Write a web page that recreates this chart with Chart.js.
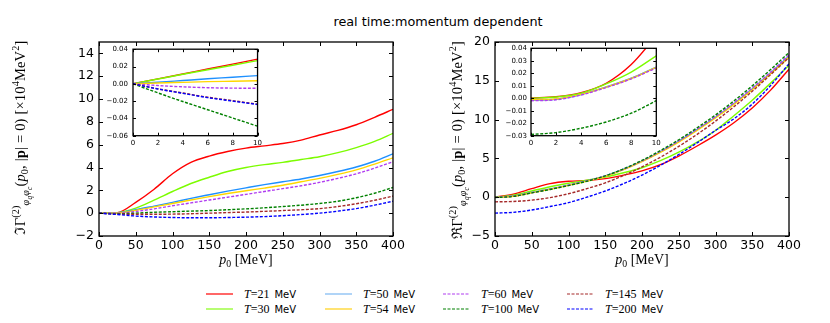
<!DOCTYPE html>
<html>
<head>
<meta charset="utf-8">
<script src="https://cdn.jsdelivr.net/npm/chart.js@4.4.1/dist/chart.umd.min.js"></script>
<style>
  body { margin: 0; background: #fff; }
  #fig { position: relative; width: 830px; height: 323px; overflow: hidden; font-family: 'DejaVu Sans', sans-serif; color: #000; }
  #fig canvas { position: absolute; }
  #title { position: absolute; left: 0; width: 876px; top: 14px; line-height: 15px; text-align: center; font-size: 12.8px; }
  .lg { position: absolute; height: 14px; }
  .lg svg { position: absolute; left: 0; top: 5px; }
  .lg span { position: absolute; left: 38px; top: 0; line-height: 14px; white-space: nowrap; font-size: 10px; }
  .lg i, .lg b { font-family: 'Liberation Serif', serif; font-size: 12px; font-weight: normal; }
</style>
</head>
<body>
<div id="fig">
  <div id="title">real time:momentum dependent</div>
  <canvas id="imMain" width="415" height="280" style="left:0;top:0"></canvas>
  <canvas id="reMain" width="415" height="280" style="left:415px;top:0"></canvas>
  <canvas id="imInset" width="165" height="108" style="left:100px;top:40px"></canvas>
  <canvas id="reInset" width="170" height="108" style="left:497px;top:40px"></canvas>
</div>
<script>
// --- DATA ---
const temps = ['21', '30', '50', '54', '60', '100', '145', '200'];
const energies = [0, 25, 50, 75, 100, 125, 150, 175, 200, 225, 250, 275, 300, 325, 350, 375, 400];
const insetEnergies = [0, 2, 4, 6, 8, 10];

// imaginary part, x 10^4 MeV^2
const imT21 = [0, 0.05, 0.95, 2.1, 3.45, 4.45, 5.0, 5.4, 5.7, 5.9, 6.1, 6.4, 6.85, 7.25, 7.75, 8.4, 9.1];
const imT30 = [0, 0.05, 0.45, 1.15, 1.9, 2.6, 3.15, 3.65, 4.0, 4.25, 4.45, 4.7, 4.95, 5.3, 5.75, 6.3, 7.0];
const imT50 = [0, 0.03, 0.3, 0.62, 0.95, 1.3, 1.62, 1.93, 2.22, 2.5, 2.75, 3.0, 3.3, 3.65, 4.05, 4.55, 5.2];
const imT54 = [0, 0.02, 0.25, 0.55, 0.85, 1.15, 1.45, 1.72, 1.97, 2.2, 2.45, 2.75, 3.05, 3.4, 3.8, 4.3, 4.85];
const imT60 = [0, 0.0, 0.15, 0.38, 0.65, 0.9, 1.15, 1.4, 1.65, 1.9, 2.15, 2.4, 2.7, 3.05, 3.45, 3.95, 4.5];
const imT100 = [0, -0.05, 0.0, 0.08, 0.13, 0.18, 0.23, 0.3, 0.38, 0.47, 0.58, 0.7, 0.85, 1.05, 1.35, 1.75, 2.25];
const imT145 = [0, -0.08, -0.1, -0.1, -0.08, -0.05, 0.0, 0.05, 0.1, 0.16, 0.23, 0.3, 0.4, 0.58, 0.83, 1.13, 1.5];
const imT200 = [0, -0.12, -0.25, -0.33, -0.38, -0.4, -0.4, -0.38, -0.35, -0.3, -0.22, -0.12, 0.0, 0.18, 0.4, 0.7, 1.05];

// real part, x 10^4 MeV^2
const reT21 = [0, 0.4, 1.1, 1.75, 2.05, 2.15, 2.4, 2.85, 3.4, 4.2, 5.3, 6.6, 8.0, 9.6, 11.5, 13.8, 16.5];
const reT30 = [0, 0.25, 0.8, 1.35, 1.8, 2.2, 2.6, 3.15, 3.8, 4.7, 5.8, 7.1, 8.6, 10.5, 12.5, 14.7, 17.0];
const reT50 = [0, 0.15, 0.6, 1.05, 1.55, 2.1, 2.75, 3.6, 4.65, 5.85, 7.2, 8.7, 10.3, 12.05, 13.95, 16.0, 18.2];
const reT54 = [0, 0.13, 0.57, 1.02, 1.52, 2.07, 2.7, 3.55, 4.58, 5.77, 7.1, 8.6, 10.2, 11.95, 13.85, 15.9, 18.05];
const reT60 = [-0.02, 0.14, 0.58, 1.04, 1.55, 2.1, 2.75, 3.62, 4.67, 5.9, 7.25, 8.78, 10.4, 12.15, 14.07, 16.12, 18.35];
const reT100 = [-0.03, 0.1, 0.55, 1.0, 1.5, 2.05, 2.75, 3.65, 4.75, 6.0, 7.4, 8.95, 10.6, 12.4, 14.35, 16.45, 18.65];
const reT145 = [-0.6, -0.55, -0.38, -0.05, 0.45, 1.1, 1.85, 2.8, 3.9, 5.15, 6.55, 8.1, 9.8, 11.65, 13.65, 15.8, 18.0];
const reT200 = [-2.05, -1.95, -1.65, -1.2, -0.7, 0.0, 0.8, 1.75, 2.85, 4.1, 5.5, 7.0, 8.6, 10.1, 12.0, 14.4, 17.2];

// insets (p0 = 0..10 MeV)
const imInsT21 = [0, 0.0057, 0.0114, 0.0171, 0.0228, 0.0285];
const imInsT30 = [0, 0.0055, 0.011, 0.0163, 0.0215, 0.0268];
const imInsT50 = [0, 0.0018, 0.0038, 0.0058, 0.0076, 0.0095];
const imInsT54 = [0, 0.0009, 0.0017, 0.0025, 0.003, 0.0035];
const imInsT60 = [0, -0.002, -0.0035, -0.0045, -0.005, -0.0052];
const imInsT100 = [0, -0.0105, -0.0205, -0.03, -0.0395, -0.049];
const imInsT145 = [0, -0.0058, -0.0107, -0.0155, -0.0195, -0.0235];
const imInsT200 = [0, -0.006, -0.011, -0.016, -0.02, -0.024];

const reInsT21 = [0.0002, 0.0012, 0.0045, 0.012, 0.027, 0.05];
const reInsT30 = [0, 0.001, 0.004, 0.0115, 0.021, 0.034];
const reInsT50 = [-0.0015, -0.0008, 0.003, 0.009, 0.016, 0.025];
const reInsT54 = [-0.0012, -0.0006, 0.0031, 0.0089, 0.0158, 0.0248];
const reInsT60 = [-0.002, -0.0012, 0.0026, 0.0086, 0.0155, 0.0243];
const reInsT100 = [-0.029, -0.0275, -0.024, -0.019, -0.012, -0.002];

// --- STYLE ---
const seriesColors = ['#ff0000', '#7cfc00', '#1e90ff', '#ffd700', '#b03cf0', '#008000', '#a52a2a', '#0000ff'];
const legendColors = ['#ff4040', '#7cfc00', '#9ccaf5', '#ffcc00', '#b03cf0', '#008000', '#a52a2a', '#0000ff'];
const dashedSeries = [false, false, false, false, true, true, true, true];

const SERIF = "'Liberation Serif', 'DejaVu Serif', serif";
const SANS = "'DejaVu Sans', sans-serif";

// rich text: parts laid out char by char, sub/superscripts via dy,
// extra spacing spread so the whole label spans `span` px
function layoutRich(ctx, parts, gap) {
  let x = 0, mark = 0, maxX = 0, n = 0;
  const placed = [];
  parts.forEach((p) => {
    ctx.font = p.f;
    if (p.mark) mark = x;
    if (p.back) x = mark;
    if (p.join) x = maxX;
    for (const ch of p.t) {
      placed.push({ ch, f: p.f, dy: p.dy || 0, x });
      x += ctx.measureText(ch).width + gap;
      n++;
    }
    maxX = Math.max(maxX, x);
  });
  return { placed, width: maxX, n };
}

function drawRich(ctx, parts, cx, baseY, span) {
  let lay = layoutRich(ctx, parts, 0);
  if (span) lay = layoutRich(ctx, parts, Math.max(0, (span - lay.width) / lay.n));
  ctx.textAlign = 'left';
  ctx.textBaseline = 'alphabetic';
  ctx.fillStyle = '#000';
  lay.placed.forEach((c) => {
    ctx.font = c.f;
    ctx.fillText(c.ch, cx - lay.width / 2 + c.x, baseY + c.dy);
  });
}

function yTitleParts(sym, S) {
  const s1 = S * 0.7, s2 = S * 0.5;
  return [
    { t: sym + 'Γ', f: `${S}px ${SERIF}` },
    { t: '(2)', f: `${s1}px ${SERIF}`, dy: -S * 0.42, mark: true },
    { t: 'φ', f: `italic ${s1}px ${SERIF}`, dy: S * 0.3, back: true },
    { t: 'q', f: `italic ${s2}px ${SERIF}`, dy: S * 0.45 },
    { t: 'φ', f: `italic ${s1}px ${SERIF}`, dy: S * 0.3 },
    { t: 'c', f: `italic ${s2}px ${SERIF}`, dy: S * 0.45 },
    { t: '(', f: `${S}px ${SERIF}`, join: true },
    { t: 'p', f: `italic ${S}px ${SERIF}` },
    { t: '0', f: `${s1}px ${SERIF}`, dy: S * 0.22 },
    { t: ', |', f: `${S}px ${SERIF}` },
    { t: 'p', f: `bold ${S}px ${SERIF}` },
    { t: '| = 0) [×10', f: `${S}px ${SERIF}` },
    { t: '4', f: `${s1}px ${SERIF}`, dy: -S * 0.42 },
    { t: 'MeV', f: `${S}px ${SERIF}` },
    { t: '2', f: `${s1}px ${SERIF}`, dy: -S * 0.42 },
    { t: ']', f: `${S}px ${SERIF}` },
  ];
}

function xTitleParts(S) {
  return [
    { t: 'p', f: `italic ${S}px ${SERIF}` },
    { t: '0', f: `${S * 0.7}px ${SERIF}`, dy: S * 0.22 },
    { t: ' [MeV]', f: `${S}px ${SERIF}` },
  ];
}

// frame, inward ticks on all four sides, math titles
const framePlugin = {
  id: 'frame',
  beforeDatasetsDraw(chart) {
    const { ctx, chartArea: a } = chart;
    ctx.save();
    ctx.fillStyle = '#fff';
    ctx.fillRect(a.left, a.top, a.width, a.height);
    ctx.restore();
  },
  afterDraw(chart, args, opts) {
    const { ctx, chartArea: a, scales } = chart;
    const L = opts.tick;
    ctx.save();
    ctx.strokeStyle = '#000';
    ctx.lineWidth = 1;
    ctx.beginPath();
    scales.x.ticks.forEach((t) => {
      const px = Math.round(scales.x.getPixelForValue(t.value)) + 0.5;
      ctx.moveTo(px, a.bottom); ctx.lineTo(px, a.bottom - L);
      ctx.moveTo(px, a.top); ctx.lineTo(px, a.top + L);
    });
    scales.y.ticks.forEach((t) => {
      const py = Math.round(scales.y.getPixelForValue(t.value)) + 0.5;
      ctx.moveTo(a.left, py); ctx.lineTo(a.left + L, py);
      ctx.moveTo(a.right, py); ctx.lineTo(a.right - L, py);
    });
    ctx.stroke();
    ctx.lineWidth = opts.frameWidth;
    ctx.strokeRect(a.left, a.top, a.width, a.height);
    if (opts.xTitle) drawRich(ctx, opts.xTitle, (a.left + a.right) / 2, opts.xTitleY);
    if (opts.yTitle) {
      ctx.translate(opts.yTitleX, opts.yTitleCY);
      ctx.rotate(-Math.PI / 2);
      drawRich(ctx, opts.yTitle, 0, 5, opts.yTitleSpan);
    }
    ctx.restore();
  },
};

function buildSets(xs, seriesList, width) {
  return seriesList.map((ys, i) => ys && {
    label: `T = ${temps[i]} MeV`,
    data: xs.map((x, j) => ({ x, y: ys[j] })),
    borderColor: seriesColors[i],
    borderWidth: width,
    borderDash: dashedSeries[i] ? [3, 1.6] : [],
    pointRadius: 0,
    cubicInterpolationMode: 'monotone',
    fill: false,
    order: -i,
    clip: 0,
  }).filter(Boolean);
}

function fmt(decimals) {
  return (v) => {
    if (Math.abs(v) < 1e-9) v = 0;
    return (v < 0 ? '\u2212' : '') + Math.abs(v).toFixed(decimals);
  };
}

function makeChart(id, datasets, cfg) {
  const tickFont = { family: SANS, size: cfg.fontSize };
  return new Chart(document.getElementById(id), {
    type: 'line',
    data: { datasets },
    options: {
      responsive: false,
      animation: false,
      events: [],
      layout: { padding: cfg.padding },
      plugins: {
        legend: { display: false },
        tooltip: { enabled: false },
        frame: cfg.frame,
      },
      scales: {
        x: {
          type: 'linear', min: cfg.x[0], max: cfg.x[1],
          grid: { display: false, drawTicks: false },
          border: { display: false },
          ticks: { stepSize: cfg.x[2], color: '#000', font: tickFont, padding: cfg.xPad, maxRotation: 0, autoSkip: false, includeBounds: false, callback: fmt(0) },
          afterFit: (s) => { s.height = cfg.xH; },
        },
        y: {
          type: 'linear', min: cfg.y[0], max: cfg.y[1],
          grid: { display: false, drawTicks: false },
          border: { display: false },
          ticks: { stepSize: cfg.y[2], color: '#000', font: tickFont, padding: cfg.yPad, autoSkip: false, includeBounds: false, callback: fmt(cfg.yDec) },
          afterFit: (s) => { s.width = cfg.yW; },
        },
      },
    },
    plugins: [framePlugin],
  });
}

// --- MAIN PANELS ---
makeChart('imMain',
  buildSets(energies, [imT21, imT30, imT50, imT54, imT60, imT100, imT145, imT200], 1.4), {
    padding: { top: 42, right: 22, bottom: 0, left: 0 },
    x: [0, 400, 50], y: [-2, 15, 2], yDec: 0, fontSize: 12.5,
    xH: 44, yW: 99, xPad: 2, yPad: 5,
    frame: { tick: 4, frameWidth: 1.3, xTitle: xTitleParts(14), xTitleY: 264,
      yTitle: yTitleParts('ℑ', 14.5), yTitleX: 20, yTitleCY: 137.5, yTitleSpan: 194 },
  });

makeChart('reMain',
  buildSets(energies, [reT21, reT30, reT50, reT54, reT60, reT100, reT145, reT200], 1.4), {
    padding: { top: 42, right: 41, bottom: 0, left: 0 },
    x: [0, 400, 50], y: [-5, 20, 5], yDec: 0, fontSize: 12.5,
    xH: 44, yW: 80, xPad: 2, yPad: 5,
    frame: { tick: 4, frameWidth: 1.3, xTitle: xTitleParts(14), xTitleY: 264,
      yTitle: yTitleParts('ℜ', 14.5), yTitleX: 42, yTitleCY: 140, yTitleSpan: 198 },
  });

// --- INSETS ---
makeChart('imInset',
  buildSets(insetEnergies, [imInsT21, imInsT30, imInsT50, imInsT54, imInsT60, imInsT100, imInsT145, imInsT200], 1.4), {
    padding: { top: 7.7, right: 7, bottom: 0, left: 0 },
    x: [0, 10, 2], y: [-0.06, 0.04, 0.02], yDec: 2, fontSize: 7,
    xH: 12.3, yW: 33, xPad: 3, yPad: 5,
    frame: { tick: 3, frameWidth: 1.3 },
  });

makeChart('reInset',
  buildSets(insetEnergies, [reInsT21, reInsT30, reInsT50, reInsT54, reInsT60, reInsT100, null, null], 1.4), {
    padding: { top: 8.3, right: 10.7, bottom: 0, left: 0 },
    x: [0, 10, 2], y: [-0.03, 0.04, 0.01], yDec: 2, fontSize: 7,
    xH: 12.3, yW: 34, xPad: 3, yPad: 4,
    frame: { tick: 3, frameWidth: 1.3 },
  });

// --- LEGEND ---
const legendCols = [206, 325, 443, 567];
const legendRows = [294, 309];
const fig = document.getElementById('fig');
temps.forEach((t, i) => {
  const item = document.createElement('div');
  item.className = 'lg';
  item.style.left = legendCols[Math.floor(i / 2)] + 'px';
  item.style.top = (legendRows[i % 2] - 7) + 'px';
  const dash = dashedSeries[i] ? ' stroke-dasharray="3,1.5"' : '';
  const w = dashedSeries[i] ? 1.2 : (i === 0 || i === 2 ? 1.6 : 1.1);
  item.innerHTML =
    `<svg width="27" height="4"><line x1="0" y1="2" x2="27" y2="2" stroke="${legendColors[i]}" stroke-width="${w}"${dash}/></svg>` +
    `<span><i style="font-style:italic">T</i><b>=${t}</b><span style="position:static;margin-left:5px">MeV</span></span>`;
  fig.appendChild(item);
});
</script>
</body>
</html>
